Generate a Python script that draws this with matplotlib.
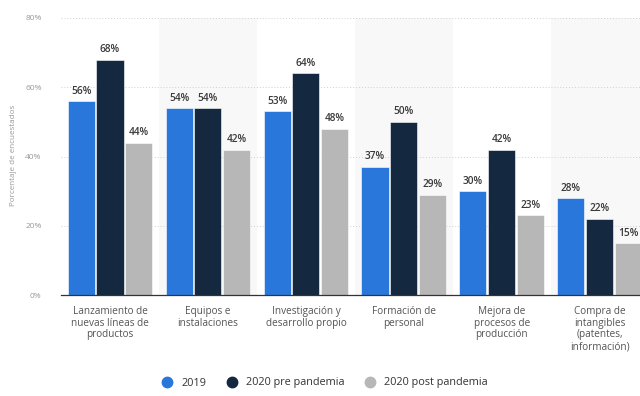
import matplotlib
matplotlib.use("Agg")
import matplotlib.pyplot as plt
from matplotlib.lines import Line2D
import numpy as np

plt.rcParams['font.family'] = ['Open Sans', 'DejaVu Sans']

categories = [
    "Lanzamiento de\nnuevas líneas de\nproductos",
    "Equipos e\ninstalaciones",
    "Investigación y\ndesarrollo propio",
    "Formación de\npersonal",
    "Mejora de\nprocesos de\nproducción",
    "Compra de\nintangibles\n(patentes,\ninformación)",
]
series_names = ["2019", "2020 pre pandemia", "2020 post pandemia"]
values_2019 = [56, 54, 53, 37, 30, 28]
values_pre = [68, 54, 64, 50, 42, 22]
values_post = [44, 42, 48, 29, 23, 15]
y_ticks = [0, 20, 40, 60, 80]

colors = ["#2a77dc", "#14293f", "#b7b7b7"]

fig = plt.figure(figsize=(6.4, 3.96), dpi=100)
ax = fig.add_axes([61 / 640, 101 / 396, 1 - 61 / 640, 277 / 396])

x = np.arange(len(categories))
width = 0.276
offsets = [-0.295, 0.0, 0.295]

# alternating category bands
for i in range(len(categories)):
    if i % 2 == 1:
        ax.axvspan(i - 0.5, i + 0.5, color="#f8f8f8", zorder=0, lw=0)

for vals, off, col in zip([values_2019, values_pre, values_post], offsets, colors):
    bars = ax.bar(x + off, vals, width=width, color=col, zorder=3,
                  edgecolor="white", linewidth=0.4)
    for b, v in zip(bars, vals):
        ax.text(b.get_x() + b.get_width() / 2, v + 1.3, f"{v}%",
                ha="center", va="bottom", fontsize=7.3, color="#3a3a3a",
                fontweight="semibold", zorder=4)

ax.set_xlim(-0.5, 5.41)
ax.set_ylim(0, 80)
ax.set_yticks(y_ticks)
ax.set_yticklabels([f"{t}%" for t in y_ticks])
ax.tick_params(axis="y", length=0, labelsize=6, labelcolor="#999999", pad=14)
ax.yaxis.grid(True, linestyle=(0, (1, 2)), color="#d0d0d0", linewidth=0.7, zorder=1)
ax.set_axisbelow(True)

ax.set_xticks(x)
ax.set_xticklabels(categories, fontsize=7.2, color="#555555", linespacing=1.08)
ax.tick_params(axis="x", length=0, pad=8)

for s in ["top", "right", "left"]:
    ax.spines[s].set_visible(False)
ax.spines["bottom"].set_color("#333333")
ax.spines["bottom"].set_linewidth(0.9)
ax.spines["bottom"].set_zorder(5)

fig.text(14 / 640, 1 - 155 / 396, "Porcentaje de encuestados", rotation=90,
         ha="center", va="center", fontsize=5.8, color="#999999")

handles = [Line2D([0], [0], marker="o", linestyle="", markersize=7.5,
                  markerfacecolor=c, markeredgecolor=c) for c in colors]
fig.legend(handles, series_names, loc="center", bbox_to_anchor=(322 / 640, 1 - 383 / 396),
           ncol=3, frameon=False, fontsize=7.8, handletextpad=0.35, columnspacing=1.3,
           labelcolor="#333333")

fig.savefig("out.png", dpi=100)
